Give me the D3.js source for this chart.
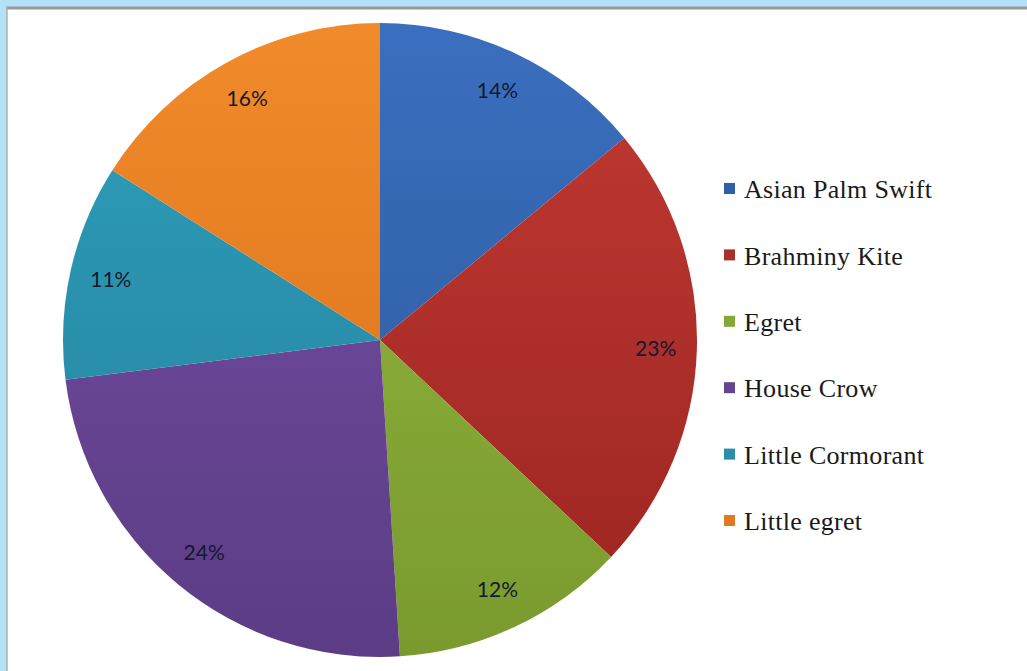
<!DOCTYPE html>
<html>
<head>
<meta charset="utf-8">
<script src="https://cdn.jsdelivr.net/npm/d3@7/dist/d3.min.js"></script>
<style>
  html, body { margin: 0; padding: 0; background: #b3e1f8; }
  svg { display: block; }
</style>
</head>
<body>
<svg id="chart" width="1027" height="671"></svg>
<script>
// Bird species share (%)
const species = ["Asian Palm Swift", "Brahminy Kite", "Egret", "House Crow", "Little Cormorant", "Little egret"];
const shares = [14, 23, 12, 24, 11, 16];
const colorsTop = ["#3a6fbf", "#c23a33", "#93b83f", "#7650a6", "#2fa0bd", "#f08a2a"];
const colorsBottom = ["#2b5898", "#9a2420", "#7a9a2e", "#5b3c85", "#237f99", "#d8701a"];
const legendColors = ["#2f5fa6", "#a8302b", "#84a737", "#64468f", "#2a8ea9", "#e07a22"];

const W = 1027, H = 671;
const svg = d3.select("#chart");

// panel frame
svg.append("rect").attr("x", 0).attr("y", 0).attr("width", W).attr("height", H).attr("fill", "#b3e1f8");
svg.append("rect").attr("x", 7).attr("y", 7).attr("width", W).attr("height", H).attr("fill", "#ffffff");
svg.append("line").attr("x1", 6).attr("x2", W).attr("y1", 8).attr("y2", 8).attr("stroke", "#9a9a9a").attr("stroke-width", 3);
svg.append("line").attr("x1", 7).attr("x2", 7).attr("y1", 7).attr("y2", H).attr("stroke", "#b0b0b0").attr("stroke-width", 1.5);

const cx = 380, cy = 340, r = 317;

// vertical shading per slice, in the pie group's local coordinates
const defs = svg.append("defs");
colorsTop.forEach((c, i) => {
  const g = defs.append("linearGradient")
    .attr("id", "grad" + i)
    .attr("gradientUnits", "userSpaceOnUse")
    .attr("x1", 0).attr("y1", -r).attr("x2", 0).attr("y2", r);
  g.append("stop").attr("offset", "0%").attr("stop-color", c);
  g.append("stop").attr("offset", "100%").attr("stop-color", colorsBottom[i]);
});

const pie = d3.pie().sort(null).value(d => d)(shares);
const arc = d3.arc().innerRadius(0).outerRadius(r);
const labelArc = d3.arc().innerRadius(r * 0.87).outerRadius(r * 0.87);

const gPie = svg.append("g").attr("transform", `translate(${cx},${cy})`);
gPie.selectAll("path.slice")
  .data(pie)
  .join("path")
  .attr("class", "slice")
  .attr("d", arc)
  .attr("fill", (d, i) => `url(#grad${i})`);

gPie.selectAll("text.lbl")
  .data(pie)
  .join("text")
  .attr("class", "lbl")
  .attr("transform", d => `translate(${labelArc.centroid(d)})`)
  .attr("text-anchor", "middle")
  .attr("dy", "0.35em")
  .attr("font-family", "Lato, 'Open Sans', sans-serif")
  .attr("font-size", 21)
  .attr("fill", "#141a2c")
  .text(d => d.data + "%");

// legend
const legend = svg.append("g").attr("transform", "translate(724,188)");
const rowStep = 66.4;
const item = legend.selectAll("g.item")
  .data(species)
  .join("g")
  .attr("class", "item")
  .attr("transform", (d, i) => `translate(0,${i * rowStep})`);
item.append("rect")
  .attr("x", 0).attr("y", -5).attr("width", 11).attr("height", 11)
  .attr("fill", (d, i) => legendColors[i]);
item.append("text")
  .attr("x", 20).attr("y", 1).attr("dy", "0.35em")
  .attr("font-family", "'Liberation Serif', 'DejaVu Serif', serif")
  .attr("font-size", 26)
  .attr("letter-spacing", 0.3)
  .attr("fill", "#1a1a1a")
  .text(d => d);
</script>
</body>
</html>
